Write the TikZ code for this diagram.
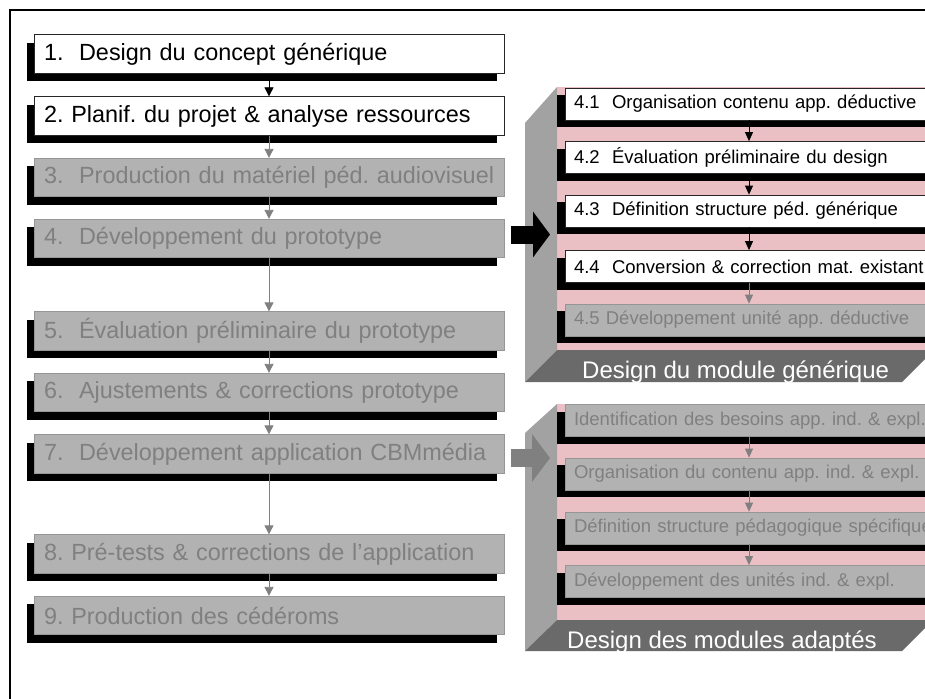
\documentclass[tikz,border=0pt]{standalone}
\usepackage{fontspec}
\setmainfont{Liberation Sans}
\usetikzlibrary{arrows.meta,shadows}
\definecolor{pinkbg}{RGB}{234,192,196}
\definecolor{sideg}{RGB}{162,162,162}
\definecolor{bandg}{RGB}{106,106,106}
\definecolor{boxg}{RGB}{178,178,178}
\definecolor{txtg}{RGB}{128,128,128}
\definecolor{bordg}{RGB}{150,150,150}
\frenchspacing
\begin{document}
\begin{tikzpicture}[x=1pt,y=-1pt,
  lshad/.style={drop shadow={shadow xshift=-7pt,shadow yshift=-8pt,fill=black,opacity=1}},
  ishad/.style={drop shadow={shadow xshift=-8pt,shadow yshift=-7pt,fill=black,opacity=1}},
  lbox/.style={lshad,rectangle,minimum width=470pt,minimum height=38.5pt,text width=450pt,inner xsep=10pt,inner ysep=0pt,align=left,font=\fontsize{23.4}{28}\selectfont,line width=0.8pt},
  wbox/.style={lbox,fill=white,draw=black!85,text=black},
  gbox/.style={lbox,fill=boxg,draw=bordg,text=txtg},
  ibox/.style={ishad,rectangle,minimum width=368pt,minimum height=32pt,text width=350pt,inner xsep=9pt,inner ysep=0pt,align=left,font=\fontsize{18.5}{22}\selectfont,line width=0.8pt},
  iwbox/.style={ibox,fill=white,draw=black!85,text=black},
  igbox/.style={ibox,fill=boxg,draw=bordg,text=txtg},
  arrb/.style={draw=black,line width=0.8pt,-{Triangle[length=9pt,width=9pt]}},
  arrg/.style={draw=txtg,line width=0.8pt,-{Triangle[length=9pt,width=9pt]}},
  iarrb/.style={draw=black,line width=0.8pt,-{Triangle[length=9pt,width=8pt]}},
  iarrg/.style={draw=txtg,line width=0.8pt,-{Triangle[length=9pt,width=8pt]}},
  bandtxt/.style={text=white,font=\fontsize{24}{28}\selectfont,inner sep=0pt,anchor=base west},
  bigarr/.style={line width=18pt}
]
\useasboundingbox (0,0) rectangle (925,698);
\clip (0,0) rectangle (925,698);
\fill[white] (0,0) rectangle (925,698);
% frame
\draw[line width=1.5pt] (10,705) -- (10,10) -- (935,10);

% panel 1
\fill[pinkbg] (557,87) rectangle (940,350);
\fill[sideg] (525,123) -- (557,87) -- (557,350) -- (525,382) -- cycle;
\fill[bandg] (525,382) -- (557,350) -- (934,350) -- (902,382) -- cycle;
\node[bandtxt] (t1) at (582,378) {Design du module générique};

% panel 2
\fill[pinkbg] (557,404) rectangle (940,620);
\fill[sideg] (525,433) -- (557,404) -- (557,620) -- (525,651) -- cycle;
\fill[bandg] (525,651) -- (557,620) -- (933,620) -- (902,651) -- cycle;
\node[bandtxt] (t2) at (567,648) {Design des modules adaptés};

% left column
\node[wbox] (b1) at (269,54) {\mbox{1.\ \ Design du concept générique}};
\node[wbox] (b2) at (269,116) {\mbox{2. Planif. du projet \& analyse ressources}};
\node[gbox] (b3) at (269,177.5) {\mbox{3.\ \ Production du matériel péd. audiovisuel}};
\node[gbox] (b4) at (269,238.5) {\mbox{4.\ \ Développement du prototype}};
\node[gbox] (b5) at (269,331) {\mbox{5.\ \ Évaluation préliminaire du prototype}};
\node[gbox] (b6) at (269,392.5) {\mbox{6.\ \ Ajustements \& corrections prototype}};
\node[gbox] (b7) at (269,454) {\mbox{7.\ \ Développement application CBMmédia}};
\node[gbox] (b8) at (269,554) {\mbox{8. Pré-tests \& corrections de l’application}};
\node[gbox] (b9) at (269,615.5) {\mbox{9. Production des cédéroms}};

% panel 1 boxes
\node[iwbox] (p1) at (749,104) {\mbox{4.1\ \ Organisation contenu app. déductive}};
\node[iwbox] (p2) at (749,157.5) {\mbox{4.2\ \ Évaluation préliminaire du design}};
\node[iwbox] (p3) at (749,211) {\mbox{4.3\ \ Définition structure péd. générique}};
\node[iwbox] (p4) at (749,266.5) {\mbox{4.4\ \ Conversion \& correction mat. existant}};
\node[igbox] (p5) at (749,320) {\mbox{4.5 Développement unité app. déductive}};

% panel 2 boxes
\node[igbox] (q1) at (749,420.5) {\mbox{Identification des besoins app. ind. \& expl.}};
\node[igbox] (q2) at (749,474) {\mbox{Organisation du contenu app. ind. \& expl.}};
\node[igbox] (q3) at (749,528) {\mbox{Définition structure pédagogique spécifique}};
\node[igbox] (q4) at (749,581.5) {\mbox{Développement des unités ind. \& expl.}};

% left arrows
\draw[arrb] (b1) -- (b2);
\draw[arrg] (b2) -- (b3);
\draw[arrg] (b3) -- (b4);
\draw[arrg] (b4) -- (b5);
\draw[arrg] (b5) -- (b6);
\draw[arrg] (b6) -- (b7);
\draw[arrg] (b7) -- (b8);
\draw[arrg] (b8) -- (b9);

% panel arrows
\draw[iarrb] (p1) -- (p2);
\draw[iarrb] (p2) -- (p3);
\draw[iarrb] (p3) -- (p4);
\draw[iarrg] (p4) -- (p5);
\draw[iarrg] (q1) -- (q2);
\draw[iarrg] (q2) -- (q3);
\draw[iarrg] (q3) -- (q4);

% big arrows
\coordinate (a1s) at (511,234.5);
\coordinate (a1e) at (550,234.5);
\coordinate (a2s) at (511,458);
\coordinate (a2e) at (550,458);
\draw[bigarr,black,-{Triangle[length=17pt,width=45pt]}] (a1s) -- (a1e);
\draw[bigarr,txtg,-{Triangle[length=18pt,width=47pt]}] (a2s) -- (a2e);
\end{tikzpicture}
\end{document}
